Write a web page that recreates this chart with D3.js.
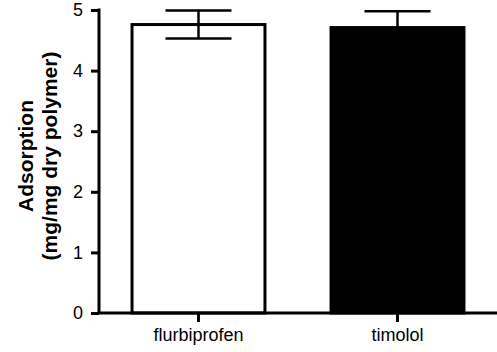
<!DOCTYPE html>
<html>
<head>
<meta charset="utf-8">
<script src="https://cdn.jsdelivr.net/npm/d3@7"></script>
<style>
  body { margin: 0; background: #fff; }
  svg { display: block; font-family: "Liberation Sans", Arial, sans-serif; }
</style>
</head>
<body>
<div id="chart"></div>
<script>
const categories = ["flurbiprofen", "timolol"];
const means = [4.76, 4.71];
const errors = [0.23, 0.27];
const fills = ["#fff", "#000"];
const yTicks = [0, 1, 2, 3, 4, 5];

(function() {
const width = 497, height = 352;
const mLeft = 99, mRight = 497, mTop = 10, mBottom = 313;

const svg = d3.select("#chart").append("svg")
  .attr("width", width)
  .attr("height", height);

const x = d3.scaleBand()
  .domain(categories)
  .range([mLeft, mRight])
  .paddingInner(0.332)
  .paddingOuter(0.166);

const y = d3.scaleLinear().domain([0, 5]).range([mBottom, mTop]);

const data = categories.map((c, i) => ({ name: c, mean: means[i], err: errors[i], fill: fills[i] }));

// bars
svg.append("g")
  .selectAll("rect")
  .data(data)
  .enter()
  .append("rect")
  .attr("x", d => x(d.name))
  .attr("y", d => y(d.mean))
  .attr("width", x.bandwidth())
  .attr("height", d => y(0) - y(d.mean))
  .attr("fill", d => d.fill)
  .attr("stroke", "#000")
  .attr("stroke-width", 3);

// error bars
const capHalf = 33;
const eb = svg.append("g").attr("stroke", "#000").attr("stroke-width", 2.5);
data.forEach(d => {
  const cx = x(d.name) + x.bandwidth() / 2;
  eb.append("line")
    .attr("x1", cx).attr("x2", cx)
    .attr("y1", y(d.mean + d.err)).attr("y2", d.fill === "#000" ? y(d.mean) : y(d.mean - d.err));
  eb.append("line")
    .attr("x1", cx - capHalf).attr("x2", cx + capHalf)
    .attr("y1", y(d.mean + d.err)).attr("y2", y(d.mean + d.err));
  if (d.fill !== "#000") {
    eb.append("line")
      .attr("x1", cx - capHalf).attr("x2", cx + capHalf)
      .attr("y1", y(d.mean - d.err)).attr("y2", y(d.mean - d.err));
  }
});

// y axis
const yAxis = svg.append("g")
  .attr("transform", `translate(${mLeft},0)`)
  .call(d3.axisLeft(y).tickValues(yTicks).tickSize(8).tickPadding(8).tickFormat(d3.format("d")));
yAxis.select(".domain").attr("d", `M0,${mTop - 1.5}V${mBottom}`).attr("stroke-width", 3);
yAxis.selectAll(".tick line").attr("stroke-width", 3);
yAxis.selectAll(".tick text").attr("font-size", 18).attr("fill", "#000")
  .attr("font-family", "Liberation Sans, Arial, sans-serif");

// x axis
const xAxis = svg.append("g")
  .attr("transform", `translate(0,${mBottom})`)
  .call(d3.axisBottom(x).tickSize(9).tickPadding(6));
xAxis.select(".domain").attr("d", `M${mLeft - 1.5},0H${mRight}`).attr("stroke-width", 3);
xAxis.selectAll(".tick line").attr("stroke-width", 3);
xAxis.selectAll(".tick text").attr("font-size", 18).attr("fill", "#000")
  .attr("font-family", "Liberation Sans, Arial, sans-serif");

// y label
const yl = svg.append("text")
  .attr("transform", `translate(0,156) rotate(-90)`)
  .attr("text-anchor", "middle")
  .attr("font-weight", "bold")
  .attr("font-size", 21);
yl.append("tspan").attr("x", 0).attr("y", 33).text("Adsorption");
yl.append("tspan").attr("x", 0).attr("y", 57).text("(mg/mg dry polymer)");
})();
</script>
</body>
</html>
